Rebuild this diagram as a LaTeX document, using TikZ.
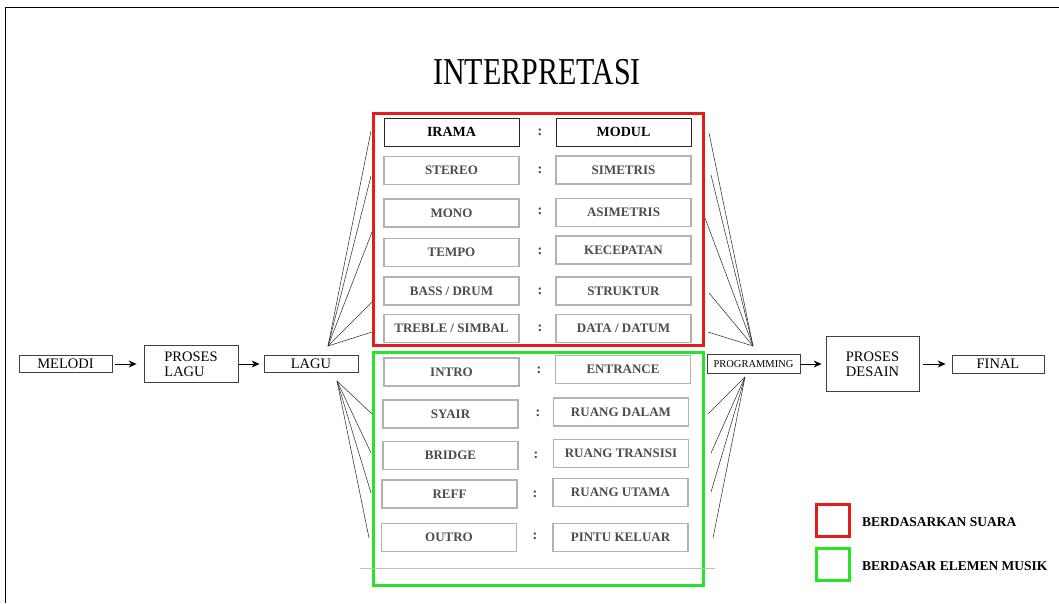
\documentclass[tikz,border=0pt]{standalone}
\usepackage{fontspec}
\setmainfont{Liberation Serif}
\usetikzlibrary{arrows.meta,shadows}
\definecolor{boxred}{RGB}{228,28,28}
\definecolor{boxgreen}{RGB}{40,228,40}
\begin{document}
\begin{tikzpicture}[x=1pt,y=-1pt,
 cell/.style={draw=black!30, line width=1.1pt, minimum width=135pt, minimum height=28pt, inner sep=0pt,
   font=\fontsize{13}{14}\selectfont\bfseries, text=black!70,
   drop shadow={opacity=0.18, shadow xshift=0.8pt, shadow yshift=-0.8pt}, fill=white},
 cellhead/.style={draw=black!85, line width=0.9pt, minimum width=135pt, minimum height=28pt, inner sep=0pt,
   font=\fontsize{14}{16}\selectfont\bfseries, text=black},
 colon/.style={font=\fontsize{14}{16}\selectfont\bfseries, text=black!75, inner sep=0pt},
 flow/.style={draw=black!75, line width=0.8pt, inner sep=0pt, font=\fontsize{14.5}{15}\selectfont},
 fan/.style={draw=black!80, line width=0.55pt},
 arr/.style={-{Stealth[length=8pt,width=7pt]}, line width=1pt},
 frame/.style={line width=3pt},
 legend/.style={anchor=west, inner sep=0pt, font=\fontsize{13.5}{15}\selectfont\bfseries},
]
\useasboundingbox (0,0) rectangle (1059,603);
% page frame
\draw[line width=1pt] (5,603) -- (5,7) -- (1059,7);
% title
\node (title) at (537,72) {\scalebox{0.79}[1]{\fontsize{38}{40}\selectfont INTERPRETASI}};
% group frames
\draw[frame, draw=boxred] (373,113) rectangle (703,345);
\draw[frame, draw=boxgreen] (373,352) rectangle (703,585);
\draw[black!25, line width=0.6pt] (360,568) -- (715,568);
% red rows
\node[cellhead] (l1) at (451.5,132) {IRAMA};
\node[cellhead] (r1) at (623.5,132) {MODUL};
\node[colon] (c1) at (540,132) {:};
\node[cell] (l2) at (451.5,170.5) {STEREO};
\node[cell] (r2) at (623.5,170) {SIMETRIS};
\node[colon] (c2) at (540,170) {:};
\node[cell] (l3) at (451.5,213) {MONO};
\node[colon] (c3) at (540,211) {:};
\node[cell] (r3) at (623.5,212.5) {ASIMETRIS};
\node[cell] (l4) at (451.5,252.5) {TEMPO};
\node[colon] (c4) at (540,251) {:};
\node[cell] (r4) at (623.5,250) {KECEPATAN};
\node[cell] (l5) at (451.5,291) {BASS / DRUM};
\node[colon] (c5) at (540,291) {:};
\node[cell] (r5) at (623.5,291) {STRUKTUR};
\node[cell] (l6) at (451.5,328.5) {TREBLE / SIMBAL};
\node[colon] (c6) at (540,328) {:};
\node[cell] (r6) at (623.5,328.5) {DATA / DATUM};
% green rows
\node[cell] (l7) at (451.5,372) {INTRO};
\node[colon] (c7) at (539,370) {:};
\node[cell] (r7) at (623,369.5) {ENTRANCE};
\node[cell] (l8) at (450.5,414) {SYAIR};
\node[colon] (c8) at (538,413) {:};
\node[cell] (r8) at (621,412) {RUANG DALAM};
\node[cell] (l9) at (450.5,455.5) {BRIDGE};
\node[colon] (c9) at (536,455) {:};
\node[cell] (r9) at (621,453.5) {RUANG TRANSISI};
\node[cell] (l10) at (449.5,494) {REFF};
\node[colon] (c10) at (535,494) {:};
\node[cell] (r10) at (620.5,492.5) {RUANG UTAMA};
\node[cell] (l11) at (449,537.5) {OUTRO};
\node[colon] (c11) at (535,536) {:};
\node[cell] (r11) at (620.5,537.5) {PINTU KELUAR};
% flow chain
\node[flow, minimum width=93pt, minimum height=17pt] (melodi) at (65.5,364) {MELODI};
\node[flow, minimum width=94pt, minimum height=37pt, align=left] (proseslagu) at (191,364) {PROSES\\LAGU};
\node[flow, minimum width=94pt, minimum height=17pt] (lagu) at (311,364) {LAGU};
\node[flow, minimum width=93pt, minimum height=19pt, font=\fontsize{10.5}{12}\selectfont] (prog) at (753.5,364) {PROGRAMMING};
\node[flow, minimum width=93pt, minimum height=55pt, align=center] (desain) at (872.5,364) {PROSES\\DESAIN};
\node[flow, minimum width=92pt, minimum height=18pt] (final) at (998,364) {FINAL};
\draw[arr, shorten <=3pt, shorten >=7pt] (melodi.east) -- (proseslagu.west);
\draw[arr, shorten <=1pt, shorten >=4pt] (proseslagu.east) -- (lagu.west);
\draw[arr, shorten >=4pt] (prog.east) -- (desain.west);
\draw[arr, shorten <=4pt, shorten >=6pt] (desain.east) -- (final.west);
% fans
\coordinate (ul) at (328,346);
\coordinate (ll) at (337,381);
\coordinate (ur) at (753,346);
\coordinate (lr) at (745,377);
\foreach \i/\p in {1/{371,131},2/{371,176},3/{372,232},4/{372,302},5/{372,332}}{
  \coordinate (ula\i) at (\p);
  \draw[fan] (ul) -- (ula\i);}
\foreach \i/\p in {1/{372,414},2/{371,453},3/{371,493},4/{369,538}}{
  \coordinate (lla\i) at (\p);
  \draw[fan] (ll) -- (lla\i);}
\foreach \i/\p in {1/{709,133},2/{711,175},3/{705,218},4/{709,293},5/{708,332}}{
  \coordinate (ura\i) at (\p);
  \draw[fan] (ur) -- (ura\i);}
\foreach \i/\p in {1/{708,414},2/{711,453},3/{711,492},4/{713,538}}{
  \coordinate (lra\i) at (\p);
  \draw[fan] (lr) -- (lra\i);}
% legend
\draw[frame, draw=boxred] (816,504) rectangle (849,536);
\draw[frame, draw=boxgreen] (816,548) rectangle (849,580);
\node[legend] (lg1) at (862,522) {BERDASARKAN SUARA};
\node[legend] (lg2) at (862,566) {BERDASAR ELEMEN MUSIK};
\end{tikzpicture}
\end{document}
